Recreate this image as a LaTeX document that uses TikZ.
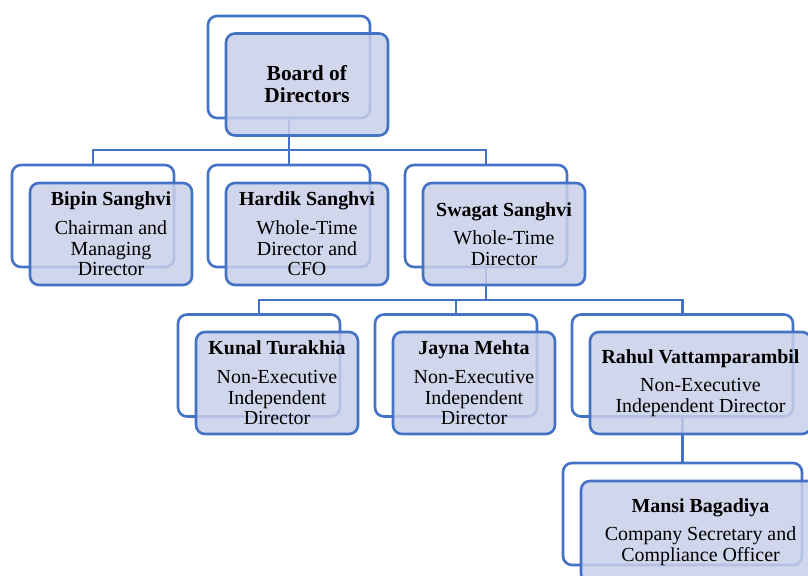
\documentclass[tikz,border=0pt]{standalone}
\usepackage{fontspec}
\setmainfont{Liberation Serif}
\definecolor{obl}{RGB}{68,114,196}
\definecolor{ofill}{RGB}{200,207,232}
\tikzset{
  box/.style={draw=obl, line width=2.6bp, rounded corners=9bp, minimum width=162bp, minimum height=102bp, inner sep=0pt, outer sep=0pt},
  backbox/.style={box, fill=white},
  frontbox/.style={box, fill=ofill, fill opacity=0.85, text opacity=1, align=center, font=\fontsize{20}{20.8}\selectfont},
  conn/.style={draw=obl, line width=2.6bp},
}
\begin{document}
\begin{tikzpicture}[x=1bp,y=-1bp]
\useasboundingbox (0,0) rectangle (808,576);
\clip (0,0) rectangle (808,576);
% back boxes
\node[backbox] (boardB)  at (289,67) {};
\node[backbox] (bipinB)  at (93,216) {};
\node[backbox] (hardikB) at (289,216) {};
\node[backbox] (swagatB) at (486,216) {};
\node[backbox] (kunalB)  at (259,365.5) {};
\node[backbox] (jaynaB)  at (456,365.5) {};
\node[backbox, minimum width=221bp] (rahulB) at (682.5,365.5) {};
\node[backbox, minimum width=239bp] (mansiB) at (682.5,514) {};
% connectors
\draw[conn] (boardB.south) -- ++(0,32) -| (bipinB.north);
\draw[conn] (boardB.south) -- ++(0,32) -| (hardikB.north);
\draw[conn] (boardB.south) -- ++(0,32) -| (swagatB.north);
\draw[conn] (swagatB.south) -- ++(0,33) -| (kunalB.north);
\draw[conn] (swagatB.south) -- ++(0,33) -| (jaynaB.north);
\draw[conn] (swagatB.south) -- ++(0,33) -| (rahulB.north);
\draw[conn] (rahulB.south) -- (mansiB.north);
% front boxes
\node[frontbox, font=\fontsize{21.5}{22}\selectfont] (board) at (307,84.5) {\textbf{Board of}\\\textbf{Directors}};
\node[frontbox] (bipin) at (111,234) {\textbf{Bipin Sanghvi}\\[8bp]Chairman and\\Managing\\Director};
\node[frontbox] (hardik) at (307,234) {\textbf{Hardik Sanghvi}\\[8bp]Whole-Time\\Director and\\CFO};
\node[frontbox] (swagat) at (504,234) {\textbf{Swagat Sanghvi}\\[8bp]Whole-Time\\Director};
\node[frontbox] (kunal) at (277,383) {\textbf{Kunal Turakhia}\\[8bp]Non-Executive\\Independent\\Director};
\node[frontbox] (jayna) at (474,383) {\textbf{Jayna Mehta}\\[8bp]Non-Executive\\Independent\\Director};
\node[frontbox, minimum width=221bp] (rahul) at (700.5,383) {\textbf{Rahul Vattamparambil}\\[8bp]Non-Executive\\Independent Director};
\node[frontbox, minimum width=239bp] (mansi) at (700.5,532) {\textbf{Mansi Bagadiya}\\[8bp]Company Secretary and\\Compliance Officer};
\end{tikzpicture}
\end{document}
